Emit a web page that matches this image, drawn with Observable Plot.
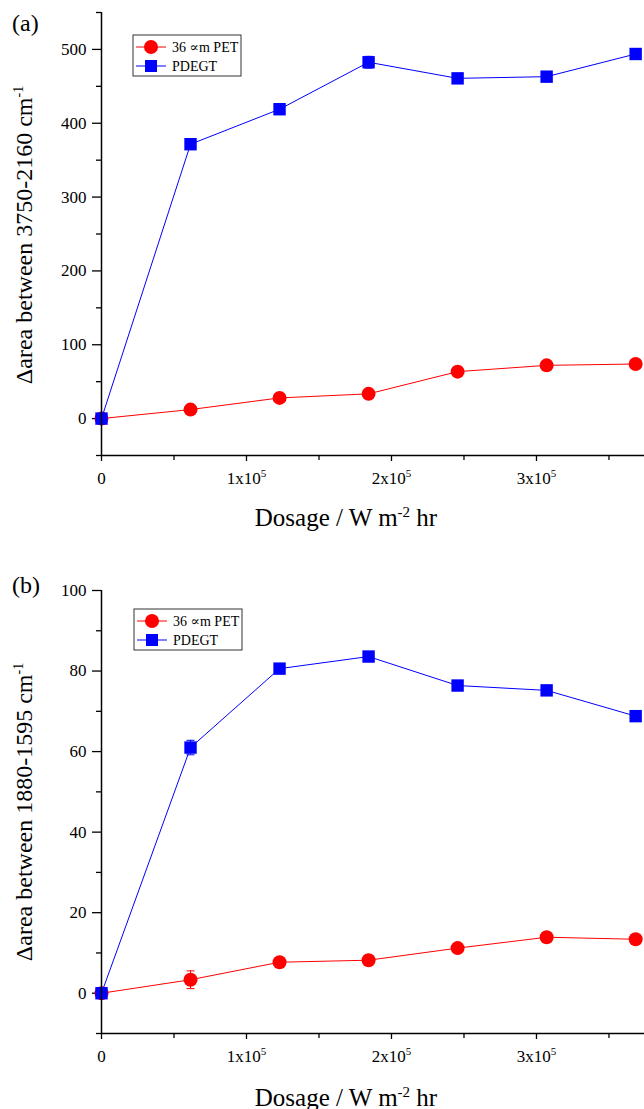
<!DOCTYPE html>
<html><head><meta charset="utf-8">
<script src="https://cdn.jsdelivr.net/npm/d3@7"></script>
<script src="https://cdn.jsdelivr.net/npm/@observablehq/plot@0.6"></script>
<style>
body{margin:0;background:#fff;}
#chart{width:644px;}
#chart svg{display:block;overflow:visible;}
</style>
</head><body><div id="chart"></div>
<script>
// ---- data ----
const dosage = [0, 61400, 122800, 184200, 245600, 307000, 368400];
const seriesNames = ["36 \u221Dm PET", "PDEGT"];
const seriesColors = ["#ff0000", "#0000ff"];
// panel (a): area between 3750-2160 cm-1
const petA = [0, 12.2, 28.0, 33.5, 63.6, 72.1, 73.9];
const petAErr = [0, 1, 1, 1, 1, 2, 1];
const pdegtA = [0, 371.6, 419, 482.6, 460.8, 463.1, 493.8];
const pdegtAErr = [0, 2, 2, 8, 2, 2, 2];
// panel (b): area between 1880-1595 cm-1
const petB = [0, 3.35, 7.7, 8.2, 11.2, 13.9, 13.4];
const petBErr = [0, 2.2, 0.3, 0.3, 0.3, 0.3, 0.3];
const pdegtB = [0, 61, 80.6, 83.6, 76.4, 75.2, 68.8];
const pdegtBErr = [0, 1.8, 0.3, 0.3, 0.3, 0.3, 0.3];
// axes
const xDomain = [0, 374500];
const xTicks = [0, 100000, 200000, 300000];
const xMinorTicks = [50000, 150000, 250000, 350000];
const yDomainA = [-50, 550];
const yTicksA = [0, 100, 200, 300, 400, 500];
const yMinorTicksA = [-50, 50, 150, 250, 350, 450, 550];
const yDomainB = [-10, 100];
const yTicksB = [0, 20, 40, 60, 80, 100];
const yMinorTicksB = [-10, 10, 30, 50, 70, 90];
const xTitle = ["Dosage / W m", "-2", " hr"];
const yTitleA = ["\u0394area between 3750-2160 cm", "-1"];
const yTitleB = ["\u0394area between 1880-1595 cm", "-1"];

const FONT = "'Liberation Serif', 'Times New Roman', Times, 'DejaVu Serif', serif";
const capSymbol = {draw(ctx){ ctx.moveTo(-4, 0); ctx.lineTo(4, 0); }};

function rows(y, e){ return dosage.map((x, i) => ({x, y: y[i], e: e[i]})); }

function panel(cfg){
  const series = [
    {data: rows(cfg.pet, cfg.petErr), color: seriesColors[0], symbol: "circle"},
    {data: rows(cfg.pdegt, cfg.pdegtErr), color: seriesColors[1], symbol: "square"}
  ];
  const marks = [];
  for (const s of series){
    const err = s.data.filter(d => d.e > 0);
    marks.push(
      Plot.ruleX(err, {x: "x", y1: d => d.y - d.e, y2: d => d.y + d.e, stroke: s.color, strokeWidth: 1}),
      Plot.dot(err, {x: "x", y: d => d.y - d.e, symbol: capSymbol, stroke: s.color, fill: "none", strokeWidth: 1}),
      Plot.dot(err, {x: "x", y: d => d.y + d.e, symbol: capSymbol, stroke: s.color, fill: "none", strokeWidth: 1}),
      Plot.line(s.data, {x: "x", y: "y", stroke: s.color, strokeWidth: 1}),
      Plot.dot(s.data, {x: "x", y: "y", symbol: s.symbol, fill: s.color, r: 7, ariaLabel: "marker"})
    );
  }
  const fig = Plot.plot({
    width: 644, height: cfg.height,
    marginLeft: 101, marginRight: 0, marginTop: cfg.marginTop, marginBottom: cfg.marginBottom,
    style: {fontFamily: FONT, fontSize: "17px", color: "black", background: "white", overflow: "visible"},
    x: {domain: xDomain, label: null},
    y: {domain: cfg.yDomain, label: null},
    marks: [
      Plot.axisY({ticks: cfg.yTicks, tickSize: 9, tickPadding: 6, fontSize: 17, label: null, strokeWidth: 1.3}),
      Plot.axisY({ticks: cfg.yMinor, tickSize: 5, tickFormat: () => "", label: null, strokeWidth: 1.3}),
      Plot.axisX({ticks: xTicks, tickSize: 6, tickPadding: 10, fontSize: 17, label: null, strokeWidth: 1.3,
        tickFormat: d => d === 0 ? "0" : `${d / 1e5}x10^5`}),
      Plot.axisX({ticks: xMinorTicks, tickSize: 5, tickFormat: () => "", label: null, strokeWidth: 1.3}),
      ...marks,
      Plot.ruleX([xDomain[0]], {stroke: "black", strokeWidth: 1.5}),
      Plot.ruleY([cfg.yDomain[0]], {stroke: "black", strokeWidth: 1.5})
    ]
  });
  const s = d3.select(fig);
  s.style("font-family", FONT);
  // clip markers to the plotting frame
  const xr = fig.scale("x").range, yr = fig.scale("y").range;
  const cid = "clip-" + cfg.tag.replace(/\W/g, "");
  s.append("defs").append("clipPath").attr("id", cid).append("rect")
    .attr("x", Math.min(...xr)).attr("y", Math.min(...yr))
    .attr("width", Math.abs(xr[1] - xr[0]) + 20).attr("height", Math.abs(yr[1] - yr[0]));
  s.selectAll('g[aria-label="marker"]').attr("clip-path", `url(#${cid})`);
  // superscripts in x tick labels
  s.selectAll('[aria-label="x-axis tick label"] text').each(function(){
    const t = this.textContent;
    if (t.includes("^")){
      const [base, sup] = t.split("^");
      const el = d3.select(this);
      el.text("");
      el.append("tspan").text(base);
      el.append("tspan").attr("dy", -7).style("font-size", "11px").text(sup);
    }
  });
  // x title
  const xt = s.append("text").attr("x", 346).attr("y", cfg.xTitleY).attr("text-anchor", "middle")
    .style("font-family", FONT).style("font-size", "25px").attr("fill", "black");
  xt.append("tspan").text(xTitle[0]);
  xt.append("tspan").attr("dy", -9).style("font-size", "15px").text(xTitle[1]);
  xt.append("tspan").attr("dy", 9).text(xTitle[2]);
  // y title
  const yt = s.append("text").attr("transform", `translate(32,${cfg.yTitleCY}) rotate(-90)`)
    .attr("text-anchor", "middle").style("font-family", FONT).style("font-size", "24px").attr("fill", "black");
  yt.append("tspan").text(cfg.yTitle[0]);
  yt.append("tspan").attr("dy", -9).style("font-size", "14px").text(cfg.yTitle[1]);
  // panel tag
  s.append("text").attr("x", 12).attr("y", cfg.tagY).attr("text-anchor", "start")
    .style("font-family", FONT).style("font-size", "24px").attr("fill", "black").text(cfg.tag);
  // legend
  const lg = s.append("g").attr("transform", `translate(${cfg.legendX},${cfg.legendY})`);
  lg.append("rect").attr("x", 0).attr("y", 0).attr("width", 108).attr("height", 41)
    .attr("fill", "white").attr("stroke", "#333").attr("stroke-width", 1);
  seriesNames.forEach((name, i) => {
    const cy = 12 + i * 19;
    lg.append("line").attr("x1", 3).attr("x2", 33).attr("y1", cy).attr("y2", cy)
      .attr("stroke", seriesColors[i]).attr("stroke-width", 1);
    if (i === 0) lg.append("circle").attr("cx", 18).attr("cy", cy).attr("r", 7).attr("fill", seriesColors[i]);
    else lg.append("rect").attr("x", 12).attr("y", cy - 6).attr("width", 12).attr("height", 12).attr("fill", seriesColors[i]);
    lg.append("text").attr("x", 39).attr("y", cy + 5).attr("text-anchor", "start")
      .style("font-family", FONT).style("font-size", "14px").attr("fill", "black").text(name);
  });
  return fig;
}

const chart = document.getElementById("chart");
chart.appendChild(panel({
  pet: petA, petErr: petAErr, pdegt: pdegtA, pdegtErr: pdegtAErr,
  yDomain: yDomainA, yTicks: yTicksA, yMinor: yMinorTicksA,
  height: 545, marginTop: 12, marginBottom: 90,
  xTitleY: 526, yTitleCY: 235, yTitle: yTitleA, tag: "(a)", tagY: 31, legendX: 133, legendY: 35
}));
chart.appendChild(panel({
  pet: petB, petErr: petBErr, pdegt: pdegtB, pdegtErr: pdegtBErr,
  yDomain: yDomainB, yTicks: yTicksB, yMinor: yMinorTicksB,
  height: 564, marginTop: 45, marginBottom: 76,
  xTitleY: 561, yTitleCY: 267, yTitle: yTitleB, tag: "(b)", tagY: 48, legendX: 134, legendY: 64
}));
</script>
</body></html>
